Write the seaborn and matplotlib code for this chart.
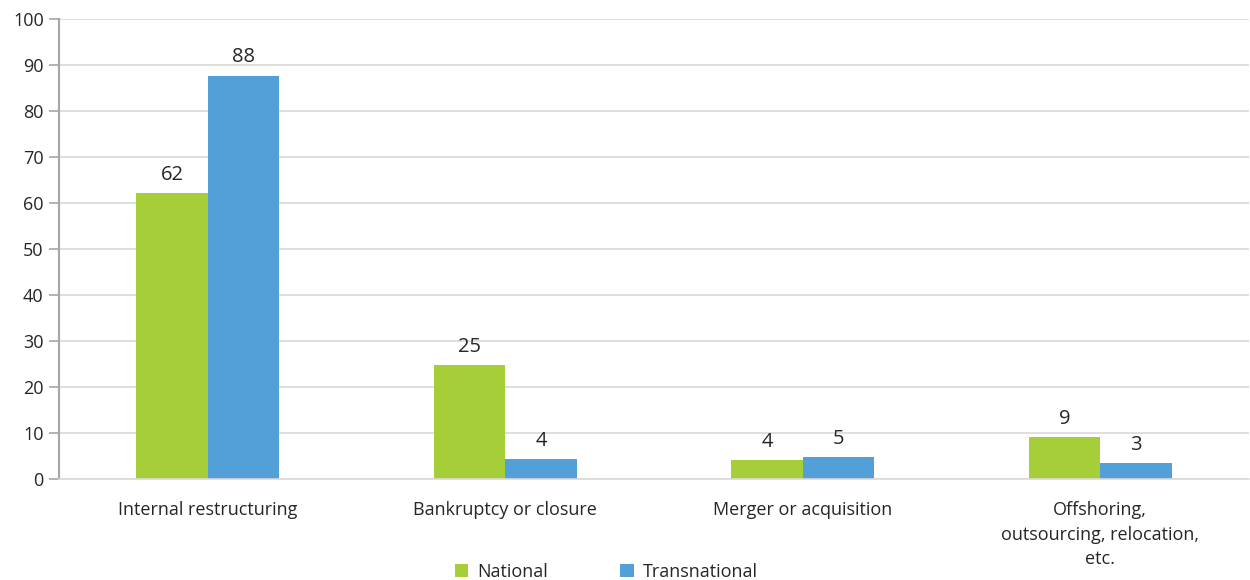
import matplotlib
matplotlib.use("Agg")
import matplotlib.pyplot as plt
import seaborn as sns
import pandas as pd

categories = ["Internal restructuring", "Bankruptcy or closure", "Merger or acquisition",
              "Offshoring,\noutsourcing, relocation,\netc."]
national = [62.2, 24.8, 4.1, 9.1]
transnational = [87.7, 4.3, 4.7, 3.4]
series_names = ["National", "Transnational"]
colors = ["#a6ce39", "#539fd7"]
y_ticks = [0, 10, 20, 30, 40, 50, 60, 70, 80, 90, 100]

df = pd.DataFrame({
    "category": categories * 2,
    "series": [series_names[0]] * 4 + [series_names[1]] * 4,
    "value": national + transnational,
})

sns.set_theme(style="white")
plt.rcParams["font.family"] = ["Open Sans", "DejaVu Sans"]

fig = plt.figure(figsize=(12.5, 5.8), dpi=100)
ax = fig.add_axes([0.0472, 0.174, 0.952, 0.793])

sns.barplot(data=df, x="category", y="value", hue="series", palette=colors,
            width=0.48, gap=0, ax=ax, legend=True, saturation=1, linewidth=0)

for cont in ax.containers:
    ax.bar_label(cont, labels=[f"{v.get_height():.0f}" for v in cont], padding=6,
                 fontsize=14.5, color="#262626")

ax.set_ylim(0, 100)
ax.set_xlim(-0.5, 3.5)
ax.set_yticks(y_ticks)
ax.yaxis.grid(True, color="#d9d9d9", linewidth=1.2)
ax.set_axisbelow(True)
ax.set_xlabel("")
ax.set_ylabel("")
for s in ["top", "right"]:
    ax.spines[s].set_visible(False)
ax.spines["left"].set_color("#a6a6a6")
ax.spines["left"].set_linewidth(1.5)
ax.spines["bottom"].set_color("#d9d9d9")
ax.spines["bottom"].set_linewidth(1.2)
ax.tick_params(axis="y", which="both", left=True, length=7, width=1.2, color="#a6a6a6",
               labelsize=13, labelcolor="#262626", pad=4)
ax.tick_params(axis="x", bottom=False, labelsize=13, labelcolor="#262626", pad=10)
for t in ax.get_xticklabels():
    t.set_linespacing(1.45)

handles, labels = ax.get_legend_handles_labels()
ax.get_legend().remove()
fig.legend(handles, labels, loc="lower center", bbox_to_anchor=(0.485, -0.03), ncol=2,
           frameon=False, fontsize=13, handlelength=0.75, handleheight=0.75,
           columnspacing=4.0, handletextpad=0.5, labelcolor="#262626")

fig.savefig("out.png", dpi=100)
